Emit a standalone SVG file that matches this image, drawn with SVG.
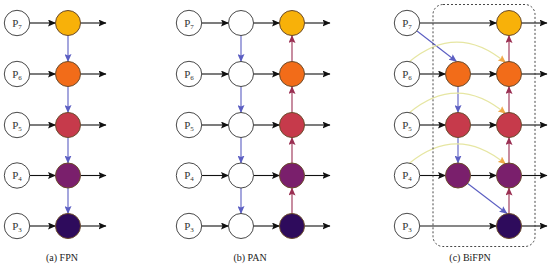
<svg xmlns="http://www.w3.org/2000/svg" width="550" height="266" viewBox="0 0 550 266">
<style>
.in{fill:#fff;stroke:#333;stroke-width:0.9}
.node{stroke:#6a4a2a;stroke-width:1}
.c7{fill:#F8B109}.c6{fill:#F26C19}.c5{fill:#C63A4B}.c4{fill:#7A1F6C}.c3{fill:#2E0B5C}
text{font-family:'Liberation Serif','Times New Roman',serif}
.lbl{font-size:11px;fill:#333;text-anchor:middle}
.sub{font-size:7px}
.cap{font-size:10px;fill:#222;text-anchor:middle}
.blk{stroke:#111;stroke-width:1.1;fill:none;marker-end:url(#ab)}
.blu{stroke:#5B5EC2;stroke-width:1.1;fill:none;marker-end:url(#abl)}
.red{stroke:#9A2F52;stroke-width:1.1;fill:none;marker-end:url(#ar)}
.yel{stroke:#E6E6A2;stroke-width:1.1;fill:none;marker-end:url(#ay)}
</style>
<defs>
<marker id="ab" markerUnits="userSpaceOnUse" markerWidth="8" markerHeight="7" refX="7.5" refY="3.5" orient="auto"><path d="M0,0 L8,3.5 L0,7 L1.5,3.5 Z" fill="#111"/></marker>
<marker id="abl" markerUnits="userSpaceOnUse" markerWidth="8" markerHeight="7" refX="7.5" refY="3.5" orient="auto"><path d="M0,0 L8,3.5 L0,7 L1.5,3.5 Z" fill="#5B5EC2"/></marker>
<marker id="ar" markerUnits="userSpaceOnUse" markerWidth="8" markerHeight="7" refX="7.5" refY="3.5" orient="auto"><path d="M0,0 L8,3.5 L0,7 L1.5,3.5 Z" fill="#9A2F52"/></marker>
<marker id="ay" markerUnits="userSpaceOnUse" markerWidth="8" markerHeight="7" refX="7.5" refY="3.5" orient="auto"><path d="M0,0 L8,3.5 L0,7 L1.5,3.5 Z" fill="#F0A848"/></marker>
</defs>

<g id="connectors">
<path class="blk" d="M30,23 H55.5"/><path class="blk" d="M80.5,23 H106"/>
<path class="blk" d="M30,74 H55.5"/><path class="blk" d="M80.5,74 H106"/>
<path class="blk" d="M30,125 H55.5"/><path class="blk" d="M80.5,125 H106"/>
<path class="blk" d="M30,175.5 H55.5"/><path class="blk" d="M80.5,175.5 H106"/>
<path class="blk" d="M30,226 H55.5"/><path class="blk" d="M80.5,226 H106"/>
<path class="blu" d="M68,35.5 V61.5"/><path class="blu" d="M68,86.5 V112.5"/>
<path class="blu" d="M68,137.5 V163"/><path class="blu" d="M68,188 V213.5"/>
<path class="blk" d="M202,23 H228.5"/><path class="blk" d="M253.5,23 H279.5"/><path class="blk" d="M304.5,23 H330"/>
<path class="blk" d="M202,74 H228.5"/><path class="blk" d="M253.5,74 H279.5"/><path class="blk" d="M304.5,74 H330"/>
<path class="blk" d="M202,125 H228.5"/><path class="blk" d="M253.5,125 H279.5"/><path class="blk" d="M304.5,125 H330"/>
<path class="blk" d="M202,175.5 H228.5"/><path class="blk" d="M253.5,175.5 H279.5"/><path class="blk" d="M304.5,175.5 H330"/>
<path class="blk" d="M202,226 H228.5"/><path class="blk" d="M253.5,226 H279.5"/><path class="blk" d="M304.5,226 H330"/>
<path class="blu" d="M241,35.5 V61.5"/><path class="blu" d="M241,86.5 V112.5"/>
<path class="blu" d="M241,137.5 V163"/><path class="blu" d="M241,188 V213.5"/>
<path class="red" d="M292,213.5 V188"/><path class="red" d="M292,163 V137.5"/>
<path class="red" d="M292,112.5 V86.5"/><path class="red" d="M292,61.5 V35.5"/>
<path class="blk" d="M420,23 H496.5"/><path class="blk" d="M521.5,23 H547"/>
<path class="blk" d="M420,74 H445.5"/><path class="blk" d="M470.5,74 H496.5"/><path class="blk" d="M521.5,74 H547"/>
<path class="blk" d="M420,125 H445.5"/><path class="blk" d="M470.5,125 H496.5"/><path class="blk" d="M521.5,125 H547"/>
<path class="blk" d="M420,175.5 H445.5"/><path class="blk" d="M470.5,175.5 H496.5"/><path class="blk" d="M521.5,175.5 H547"/>
<path class="blk" d="M420,226 H496.5"/><path class="blk" d="M521.5,226 H547"/>
<path class="blu" d="M417,31 L456.5,61.5"/>
<path class="blu" d="M458,86.5 V112.5"/><path class="blu" d="M458,137.5 V163"/>
<path class="blu" d="M467,183 L507,213.5"/>
<path class="red" d="M509,213.5 V188"/><path class="red" d="M509,163 V137.5"/>
<path class="red" d="M509,112.5 V86.5"/><path class="red" d="M509,61.5 V35.5"/>
<path class="yel" d="M409,62 Q457,22 505.5,62.5"/>
<path class="yel" d="M409,113 Q457,73 505.5,113.5"/>
<path class="yel" d="M409,163.5 Q457,124 505.5,164"/>
<rect x="433" y="4.5" width="102" height="242" rx="10" fill="none" stroke="#333" stroke-width="0.9" stroke-dasharray="2,2"/>
</g>

<g id="fpn-p7-in"><circle class="in" cx="17" cy="23" r="12.7"/><text class="lbl" x="17" y="26.5">P<tspan class="sub" dy="2">7</tspan></text></g>
<g id="fpn-p6-in"><circle class="in" cx="17" cy="74" r="12.7"/><text class="lbl" x="17" y="77.5">P<tspan class="sub" dy="2">6</tspan></text></g>
<g id="fpn-p5-in"><circle class="in" cx="17" cy="125" r="12.7"/><text class="lbl" x="17" y="128.5">P<tspan class="sub" dy="2">5</tspan></text></g>
<g id="fpn-p4-in"><circle class="in" cx="17" cy="175.5" r="12.7"/><text class="lbl" x="17" y="179">P<tspan class="sub" dy="2">4</tspan></text></g>
<g id="fpn-p3-in"><circle class="in" cx="17" cy="226" r="12.7"/><text class="lbl" x="17" y="229.5">P<tspan class="sub" dy="2">3</tspan></text></g>
<g id="fpn-p7-out"><circle class="node c7" cx="68" cy="23" r="12.5"/></g>
<g id="fpn-p6-out"><circle class="node c6" cx="68" cy="74" r="12.5"/></g>
<g id="fpn-p5-out"><circle class="node c5" cx="68" cy="125" r="12.5"/></g>
<g id="fpn-p4-out"><circle class="node c4" cx="68" cy="175.5" r="12.5"/></g>
<g id="fpn-p3-out"><circle class="node c3" cx="68" cy="226" r="12.5"/></g>
<text class="cap" x="62" y="261">(a) FPN</text>

<g id="pan-p7-in"><circle class="in" cx="189" cy="23" r="12.7"/><text class="lbl" x="189" y="26.5">P<tspan class="sub" dy="2">7</tspan></text></g>
<g id="pan-p6-in"><circle class="in" cx="189" cy="74" r="12.7"/><text class="lbl" x="189" y="77.5">P<tspan class="sub" dy="2">6</tspan></text></g>
<g id="pan-p5-in"><circle class="in" cx="189" cy="125" r="12.7"/><text class="lbl" x="189" y="128.5">P<tspan class="sub" dy="2">5</tspan></text></g>
<g id="pan-p4-in"><circle class="in" cx="189" cy="175.5" r="12.7"/><text class="lbl" x="189" y="179">P<tspan class="sub" dy="2">4</tspan></text></g>
<g id="pan-p3-in"><circle class="in" cx="189" cy="226" r="12.7"/><text class="lbl" x="189" y="229.5">P<tspan class="sub" dy="2">3</tspan></text></g>
<g id="pan-p7-mid"><circle class="in" cx="241" cy="23" r="12.5"/></g>
<g id="pan-p6-mid"><circle class="in" cx="241" cy="74" r="12.5"/></g>
<g id="pan-p5-mid"><circle class="in" cx="241" cy="125" r="12.5"/></g>
<g id="pan-p4-mid"><circle class="in" cx="241" cy="175.5" r="12.5"/></g>
<g id="pan-p3-mid"><circle class="in" cx="241" cy="226" r="12.5"/></g>
<g id="pan-p7-out"><circle class="node c7" cx="292" cy="23" r="12.5"/></g>
<g id="pan-p6-out"><circle class="node c6" cx="292" cy="74" r="12.5"/></g>
<g id="pan-p5-out"><circle class="node c5" cx="292" cy="125" r="12.5"/></g>
<g id="pan-p4-out"><circle class="node c4" cx="292" cy="175.5" r="12.5"/></g>
<g id="pan-p3-out"><circle class="node c3" cx="292" cy="226" r="12.5"/></g>
<text class="cap" x="250" y="261">(b) PAN</text>

<g id="bifpn-p7-in"><circle class="in" cx="407" cy="23" r="12.7"/><text class="lbl" x="407" y="26.5">P<tspan class="sub" dy="2">7</tspan></text></g>
<g id="bifpn-p6-in"><circle class="in" cx="407" cy="74" r="12.7"/><text class="lbl" x="407" y="77.5">P<tspan class="sub" dy="2">6</tspan></text></g>
<g id="bifpn-p5-in"><circle class="in" cx="407" cy="125" r="12.7"/><text class="lbl" x="407" y="128.5">P<tspan class="sub" dy="2">5</tspan></text></g>
<g id="bifpn-p4-in"><circle class="in" cx="407" cy="175.5" r="12.7"/><text class="lbl" x="407" y="179">P<tspan class="sub" dy="2">4</tspan></text></g>
<g id="bifpn-p3-in"><circle class="in" cx="407" cy="226" r="12.7"/><text class="lbl" x="407" y="229.5">P<tspan class="sub" dy="2">3</tspan></text></g>
<g id="bifpn-p6-mid"><circle class="node c6" cx="458" cy="74" r="12.5"/></g>
<g id="bifpn-p5-mid"><circle class="node c5" cx="458" cy="125" r="12.5"/></g>
<g id="bifpn-p4-mid"><circle class="node c4" cx="458" cy="175.5" r="12.5"/></g>
<g id="bifpn-p7-out"><circle class="node c7" cx="509" cy="23" r="12.5"/></g>
<g id="bifpn-p6-out"><circle class="node c6" cx="509" cy="74" r="12.5"/></g>
<g id="bifpn-p5-out"><circle class="node c5" cx="509" cy="125" r="12.5"/></g>
<g id="bifpn-p4-out"><circle class="node c4" cx="509" cy="175.5" r="12.5"/></g>
<g id="bifpn-p3-out"><circle class="node c3" cx="509" cy="226" r="12.5"/></g>
<text class="cap" x="470" y="261">(c) BiFPN</text>
</svg>
